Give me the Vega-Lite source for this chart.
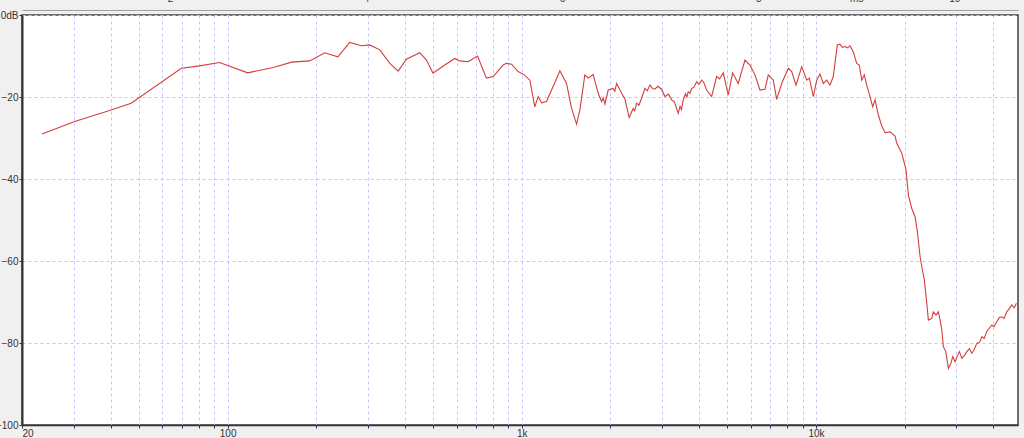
{
  "$schema": "https://vega.github.io/schema/vega-lite/v6.json",
  "width": 996,
  "height": 410,
  "autosize": {"type": "none"},
  "padding": {"left": 22, "top": 15, "right": 6, "bottom": 13},
  "background": "#f0f0f0",
  "view": {"fill": "#ffffff", "stroke": "#404040", "strokeWidth": 1.5},
  "config": {
    "axis": {
      "labelFont": "Liberation Sans",
      "labelFontSize": 10,
      "labelColor": "#333333",
      "gridColor": "#c4c4ff",
      "gridDash": [3, 3],
      "gridWidth": 1,
      "tickColor": "#333333",
      "domainColor": "#333333",
      "title": null
    }
  },
  "layer": [
    {
      "data": {
        "values": [
          {"f": 23.4, "db": -29.0}, {"f": 30.2, "db": -26.0}, {"f": 39.7, "db": -23.3}, {"f": 47.0, "db": -21.5},
          {"f": 69.6, "db": -13.0}, {"f": 80.3, "db": -12.4}, {"f": 93.9, "db": -11.6}, {"f": 117, "db": -14.1},
          {"f": 143, "db": -12.8}, {"f": 165, "db": -11.5}, {"f": 190, "db": -11.2}, {"f": 214, "db": -9.2},
          {"f": 237, "db": -10.2}, {"f": 260, "db": -6.7}, {"f": 285, "db": -7.5}, {"f": 304, "db": -7.3},
          {"f": 329, "db": -8.5}, {"f": 356, "db": -11.8}, {"f": 380, "db": -13.7}, {"f": 405, "db": -10.8},
          {"f": 450, "db": -9.2}, {"f": 474, "db": -11.0}, {"f": 499, "db": -14.2}, {"f": 547, "db": -12.2},
          {"f": 592, "db": -10.6}, {"f": 615, "db": -11.2}, {"f": 657, "db": -11.4}, {"f": 707, "db": -10.0},
          {"f": 758, "db": -15.4}, {"f": 799, "db": -15.0}, {"f": 864, "db": -12.2}, {"f": 887, "db": -11.8},
          {"f": 923, "db": -12.0}, {"f": 971, "db": -13.8}, {"f": 1020, "db": -14.6}, {"f": 1065, "db": -15.9}, {"f": 1107, "db": -22.4},
          {"f": 1136, "db": -19.9}, {"f": 1167, "db": -21.4}, {"f": 1213, "db": -21.1}, {"f": 1262, "db": -18.3},
          {"f": 1300, "db": -16.2}, {"f": 1347, "db": -13.6}, {"f": 1419, "db": -16.7}, {"f": 1476, "db": -22.8}, {"f": 1535, "db": -26.6},
          {"f": 1575, "db": -23.2}, {"f": 1638, "db": -14.6}, {"f": 1681, "db": -15.4}, {"f": 1748, "db": -14.5},
          {"f": 1818, "db": -19.1}, {"f": 1867, "db": -21.1}, {"f": 1890, "db": -20.2}, {"f": 1916, "db": -21.7}, {"f": 1966, "db": -18.3},
          {"f": 2044, "db": -17.9}, {"f": 2070, "db": -18.6}, {"f": 2100, "db": -16.7}, {"f": 2140, "db": -17.8}, {"f": 2184, "db": -19.1}, {"f": 2241, "db": -20.5},
          {"f": 2317, "db": -25.0}, {"f": 2391, "db": -22.8}, {"f": 2420, "db": -23.4}, {"f": 2455, "db": -21.5}, {"f": 2500, "db": -22.0}, {"f": 2553, "db": -20.3},
          {"f": 2620, "db": -17.9}, {"f": 2670, "db": -18.5}, {"f": 2725, "db": -17.1}, {"f": 2780, "db": -17.9}, {"f": 2834, "db": -18.1}, {"f": 2900, "db": -17.4}, {"f": 2987, "db": -18.1},
          {"f": 3065, "db": -19.9}, {"f": 3150, "db": -19.3}, {"f": 3230, "db": -20.7}, {"f": 3300, "db": -21.2}, {"f": 3401, "db": -24.0}, {"f": 3450, "db": -22.3}, {"f": 3490, "db": -23.1}, {"f": 3537, "db": -20.7},
          {"f": 3600, "db": -19.2}, {"f": 3640, "db": -20.0}, {"f": 3678, "db": -18.7}, {"f": 3730, "db": -19.1}, {"f": 3778, "db": -17.9}, {"f": 3850, "db": -17.6}, {"f": 3929, "db": -16.3}, {"f": 4000, "db": -16.9}, {"f": 4086, "db": -15.9},
          {"f": 4150, "db": -16.4}, {"f": 4249, "db": -18.3}, {"f": 4418, "db": -19.9}, {"f": 4594, "db": -15.0}, {"f": 4700, "db": -15.6}, {"f": 4838, "db": -14.1},
          {"f": 5031, "db": -19.5}, {"f": 5208, "db": -14.1}, {"f": 5441, "db": -16.7}, {"f": 5735, "db": -11.0},
          {"f": 5964, "db": -12.2}, {"f": 6202, "db": -14.6}, {"f": 6450, "db": -18.3}, {"f": 6707, "db": -18.1},
          {"f": 6884, "db": -14.6}, {"f": 7159, "db": -15.9}, {"f": 7351, "db": -20.6}, {"f": 7644, "db": -16.7},
          {"f": 8051, "db": -13.0}, {"f": 8267, "db": -13.8}, {"f": 8551, "db": -17.1}, {"f": 8942, "db": -12.6},
          {"f": 9299, "db": -15.9}, {"f": 9490, "db": -15.4}, {"f": 9791, "db": -19.9}, {"f": 10055, "db": -15.9},
          {"f": 10318, "db": -14.4}, {"f": 10587, "db": -16.7}, {"f": 10874, "db": -15.9}, {"f": 11158, "db": -17.1},
          {"f": 11449, "db": -15.0}, {"f": 11813, "db": -7.3}, {"f": 12066, "db": -7.1}, {"f": 12300, "db": -7.9}, {"f": 12547, "db": -7.7},
          {"f": 12800, "db": -8.0}, {"f": 13048, "db": -7.5}, {"f": 13392, "db": -9.0}, {"f": 13752, "db": -11.8}, {"f": 14036, "db": -12.2},
          {"f": 14301, "db": -15.9}, {"f": 14597, "db": -14.6}, {"f": 14873, "db": -17.1}, {"f": 15265, "db": -19.9},
          {"f": 15591, "db": -22.4}, {"f": 15874, "db": -20.7}, {"f": 16289, "db": -24.4}, {"f": 16729, "db": -27.0},
          {"f": 17166, "db": -28.7}, {"f": 17854, "db": -28.5}, {"f": 18567, "db": -29.5}, {"f": 18817, "db": -31.3},
          {"f": 19570, "db": -33.7}, {"f": 20237, "db": -37.8}, {"f": 20604, "db": -43.9}, {"f": 21162, "db": -47.2},
          {"f": 21715, "db": -49.2}, {"f": 22113, "db": -52.9}, {"f": 22580, "db": -58.9}, {"f": 22994, "db": -62.2},
          {"f": 23357, "db": -64.6}, {"f": 23798, "db": -70.3}, {"f": 24099, "db": -74.4}, {"f": 24746, "db": -74.0},
          {"f": 25061, "db": -72.4}, {"f": 25597, "db": -73.2}, {"f": 26062, "db": -72.4}, {"f": 26412, "db": -74.4},
          {"f": 26767, "db": -76.8}, {"f": 27101, "db": -80.9}, {"f": 27618, "db": -82.1}, {"f": 28184, "db": -86.2},
          {"f": 28720, "db": -85.0}, {"f": 29174, "db": -83.3}, {"f": 29703, "db": -84.6}, {"f": 30200, "db": -83.2},
          {"f": 30718, "db": -82.1}, {"f": 31302, "db": -83.7}, {"f": 32000, "db": -83.0}, {"f": 32551, "db": -82.1},
          {"f": 33200, "db": -81.4}, {"f": 33850, "db": -82.5}, {"f": 34500, "db": -81.6}, {"f": 35201, "db": -80.1},
          {"f": 36000, "db": -79.8}, {"f": 36607, "db": -78.5}, {"f": 37300, "db": -78.9}, {"f": 38069, "db": -77.2},
          {"f": 38800, "db": -76.4}, {"f": 39589, "db": -75.6}, {"f": 40300, "db": -76.0}, {"f": 41169, "db": -74.8},
          {"f": 42000, "db": -73.8}, {"f": 42813, "db": -73.6}, {"f": 43600, "db": -74.0}, {"f": 44522, "db": -72.4},
          {"f": 45400, "db": -71.6}, {"f": 46299, "db": -70.7}, {"f": 47200, "db": -71.4}, {"f": 48000, "db": -70.3}
        ]
      },
      "mark": {"type": "line", "color": "#d63c3c", "strokeWidth": 1.1, "clip": true},
      "encoding": {
        "x": {
          "field": "f",
          "type": "quantitative",
          "scale": {"type": "log", "domain": [20, 48600], "nice": false},
          "axis": {
            "orient": "bottom",
            "values": [20, 30, 40, 50, 60, 70, 80, 90, 100, 200, 300, 400, 500, 600, 700, 800, 900, 1000, 2000, 3000, 4000, 5000, 6000, 7000, 8000, 9000, 10000, 20000, 30000, 40000],
            "labelExpr": "datum.value == 20 ? '20' : datum.value == 100 ? '100' : datum.value == 1000 ? '1k' : datum.value == 10000 ? '10k' : ''",
            "tickSize": 3,
            "labelPadding": 0,
            "labelFlush": true,
            "labelOverlap": false,
            "domainWidth": 1.5
          }
        },
        "y": {
          "field": "db",
          "type": "quantitative",
          "scale": {"domain": [-100, 0], "nice": false, "zero": false},
          "axis": {
            "values": [-100, -80, -60, -40, -20, 0],
            "labelExpr": "datum.value == 0 ? '0dB' : datum.label",
            "tickSize": 3,
            "labelPadding": 1,
            "domainWidth": 2
          }
        }
      }
    },
    {
      "data": {"values": [{"ms": 2}, {"ms": 10}]},
      "mark": {"type": "point", "opacity": 0},
      "encoding": {
        "x": {
          "field": "ms",
          "type": "quantitative",
          "scale": {"domain": [0.49, 10.65], "nice": false, "zero": false},
          "axis": {
            "orient": "top",
            "values": [2, 4, 6, 8, 9, 10],
            "labelExpr": "datum.value == 9 ? 'ms' : datum.label",
            "offset": 5,
            "tickSize": 0,
            "labelPadding": 7,
            "grid": false,
            "domainColor": "#a0a0a0",
            "domainWidth": 1
          }
        }
      }
    }
  ],
  "resolve": {"scale": {"x": "independent"}, "axis": {"x": "independent"}}
}
